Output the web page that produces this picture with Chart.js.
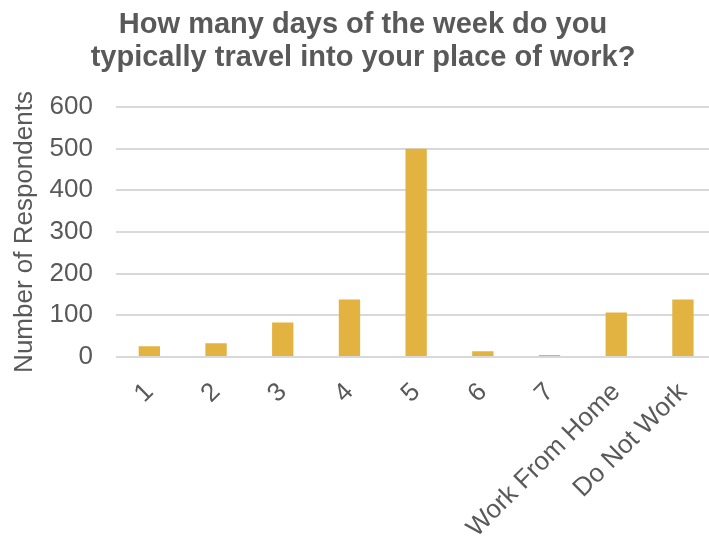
<!DOCTYPE html>
<html>
<head>
<meta charset="utf-8">
<script src="https://cdn.jsdelivr.net/npm/chart.js@4/dist/chart.umd.min.js"></script>
<style>
  html, body { margin: 0; padding: 0; background: #ffffff; overflow: hidden; }
  #wrap { width: 717px; height: 536px; position: relative; }
</style>
</head>
<body>
<div id="wrap"><canvas id="c"></canvas></div>
<script>
const categories = ['1', '2', '3', '4', '5', '6', '7', 'Work From Home', 'Do Not Work'];
const respondents = [26, 33, 83, 138, 500, 14, 5, 107, 138];
const yTicks = [0, 100, 200, 300, 400, 500, 600];
const titleLines = ['How many days of the week do you', 'typically travel into your place of work?'];
const yAxisTitle = 'Number of Respondents';

const FONT = "'Liberation Sans', Arial, Helvetica, sans-serif";
const TEXT = '#595959';

new Chart(document.getElementById('c'), {
  type: 'bar',
  data: {
    labels: categories,
    datasets: [{
      data: respondents,
      backgroundColor: '#E3B342',
      borderWidth: 0,
      categoryPercentage: 1.0,
      barPercentage: 0.32
    }]
  },
  options: {
    responsive: true,
    maintainAspectRatio: false,
    animation: false,
    layout: { padding: { left: 9, right: 0, top: 0, bottom: 0 } },
    plugins: {
      legend: { display: false },
      tooltip: { enabled: false },
      title: {
        display: true,
        text: titleLines,
        color: TEXT,
        font: { family: FONT, size: 29, weight: 'bold', lineHeight: 1.12 },
        padding: { top: 9, bottom: 33 }
      }
    },
    scales: {
      x: {
        grid: { display: false },
        border: { display: false },
        afterFit: s => { s.height = 179; },
        ticks: {
          color: TEXT,
          font: { family: FONT, size: 26 },
          maxRotation: 45,
          minRotation: 45,
          autoSkip: false,
          padding: 12
        }
      },
      y: {
        min: 0,
        max: 600,
        afterBuildTicks: s => { s.ticks = yTicks.map(v => ({ value: v })); },
        afterFit: s => { s.width = 107; },
        grid: { color: '#D9D9D9', lineWidth: 2, drawTicks: false },
        border: { display: false },
        ticks: {
          color: TEXT,
          font: { family: FONT, size: 26 },
          padding: 23
        },
        title: {
          display: true,
          text: yAxisTitle,
          color: TEXT,
          font: { family: FONT, size: 26 },
          padding: { top: 0, bottom: 0 }
        }
      }
    }
  }
});
</script>
</body>
</html>
